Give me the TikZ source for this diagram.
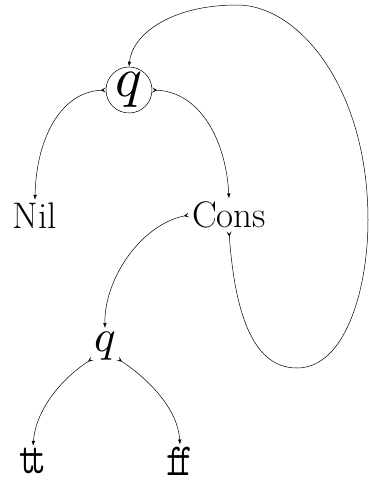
\documentclass[tikz,border=0pt]{standalone}
\usepackage{graphicx}
\usetikzlibrary{arrows.meta}
\begin{document}
\begin{tikzpicture}[x=1pt,y=-1pt,line width=0.5pt,
  lbl/.style={inner sep=3pt,font=\fontsize{37}{40}\selectfont},
  ttl/.style={inner sep=2pt,font=\fontsize{46}{50}\selectfont\ttfamily},
  edge/.style={{Stealth[reversed,length=5pt,width=5pt,inset=2.5pt]}-{Latex[length=5pt,width=3.5pt]}}]
\useasboundingbox (0,0) rectangle (368,480);
\node[circle,draw,minimum size=46pt,inner sep=0pt] (q1) at (129,90) {\scalebox{5.6}{$q$}};
\node[lbl] (nil) at (35,216) {Nil};
\node[lbl] (cons) at (229,215) {Cons};
\node[circle,minimum size=34pt,inner sep=0pt] (q2) at (105,346) {\scalebox{4.5}{$q$}};
\node[ttl] (tt) at (33,461) {\scalebox{0.7}[1]{t\kern-0.2em t}};
\node[ttl] (ff) at (180,461) {\scalebox{0.7}[1]{f\kern-0.2em f}};
\draw[edge] (q1.west) .. controls (60,92) and (36,140) .. (nil.north);
\draw[edge] (q1.east) .. controls (200,92) and (226,140) .. (cons.north);
\draw[edge] (cons.west) .. controls (140,225) and (104,280) .. (q2.north);
\draw[edge] (q2.225) .. controls (60,380) and (36,410) .. (tt.north);
\draw[edge] (q2.315) .. controls (150,380) and (178,410) .. (ff.north);
\draw[edge] (cons.south) .. controls (236,330) and (260,368) .. (297,368)
  .. controls (345,368) and (368,290) .. (368,220)
  .. controls (368,90) and (300,5) .. (237,5)
  .. controls (170,5) and (132,35) .. (q1.north);
\end{tikzpicture}
\end{document}
